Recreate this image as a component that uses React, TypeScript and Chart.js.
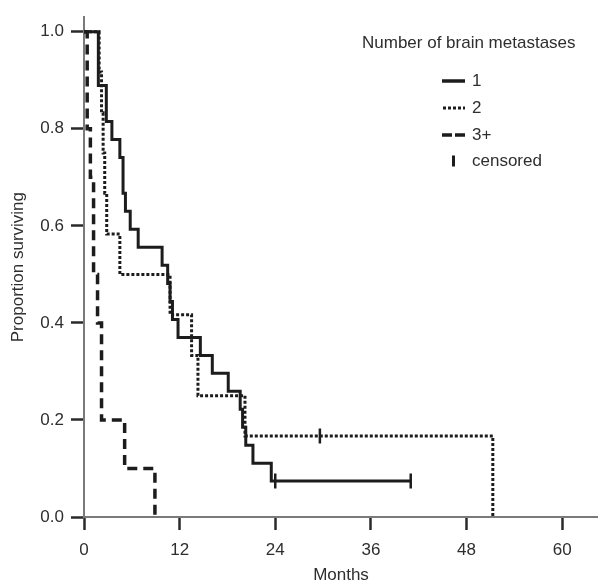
import React, { useEffect, useRef } from "react";
import { Chart, registerables } from "chart.js";

Chart.register(...registerables);

// ---- data ----
const xTickValues = [0, 12, 24, 36, 48, 60];
const yTickValues = [0, 0.2, 0.4, 0.6, 0.8, 1.0];

// Group "1" (solid)
const months1 = [0, 1.8, 2.8, 3.5, 4.5, 4.9, 5.2, 5.8, 6.8, 9.8, 10.5, 10.8, 11.1, 11.8, 14.6, 16.1, 18.1, 19.6, 19.9, 20.3, 21.2, 23.5, 41];
const surv1 = [1, 0.889, 0.815, 0.778, 0.741, 0.667, 0.63, 0.593, 0.556, 0.519, 0.481, 0.444, 0.407, 0.37, 0.333, 0.296, 0.259, 0.222, 0.185, 0.148, 0.111, 0.074, 0.074];

// Group "2" (dotted)
const months2 = [0, 1.9, 2.2, 2.4, 2.6, 2.85, 4.5, 10.8, 13.5, 14.3, 20.2, 51.3];
const surv2 = [1, 0.917, 0.833, 0.75, 0.667, 0.583, 0.5, 0.417, 0.333, 0.25, 0.167, 0];

// Group "3+" (dashed)
const months3 = [0, 0.4, 0.8, 1.2, 1.7, 2.2, 5.1, 8.9];
const surv3 = [1, 0.8, 0.7, 0.5, 0.4, 0.2, 0.1, 0];

// Censored marks
const censMonths1 = [24, 41];
const censSurv1 = [0.074, 0.074];
const censMonths2 = [29.6];
const censSurv2 = [0.167];

const seriesLabels = ["1", "2", "3+", "censored"];
const legendTitle = "Number of brain metastases";
const xTitle = "Months";
const yTitle = "Proportion surviving";

const FONT = "'Liberation Sans', Arial, Helvetica, sans-serif";
const INK = "#1c1c1c";
const TEXT = "#2e2e2e";

const pts = (xs: number[], ys: number[]) => xs.map((x, i) => ({ x, y: ys[i] }));

const legendPlugin = {
  id: "kmLegend",
  afterDraw(chart: any) {
    const ctx = chart.ctx as CanvasRenderingContext2D;
    const area = chart.chartArea;
    const x0 = area.right - 236;
    ctx.save();
    ctx.font = `17px ${FONT}`;
    ctx.fillStyle = TEXT;
    ctx.textBaseline = "middle";
    ctx.textAlign = "left";
    ctx.fillText(legendTitle, x0, 43);

    const rows = [81, 108, 135, 161];
    const sx1 = x0 + 80;
    const sx2 = x0 + 103;
    const tx = x0 + 110;
    ctx.strokeStyle = INK;
    ctx.lineCap = "butt";
    // solid
    ctx.lineWidth = 3.5;
    ctx.setLineDash([]);
    ctx.beginPath();
    ctx.moveTo(sx1, rows[0]);
    ctx.lineTo(sx2, rows[0]);
    ctx.stroke();
    // dotted
    ctx.lineWidth = 3;
    ctx.setLineDash([3, 2]);
    ctx.beginPath();
    ctx.moveTo(sx1 + 1, rows[1]);
    ctx.lineTo(sx2, rows[1]);
    ctx.stroke();
    // dashed
    ctx.lineWidth = 3.5;
    ctx.setLineDash([10, 3]);
    ctx.beginPath();
    ctx.moveTo(sx1, rows[2]);
    ctx.lineTo(sx2, rows[2]);
    ctx.stroke();
    // censored
    ctx.setLineDash([]);
    ctx.lineWidth = 3;
    ctx.beginPath();
    ctx.moveTo(x0 + 91.5, rows[3] - 5.5);
    ctx.lineTo(x0 + 91.5, rows[3] + 5.5);
    ctx.stroke();

    seriesLabels.forEach((lab, i) => {
      ctx.fillText(lab, tx, rows[i]);
    });
    ctx.restore();
  },
};

export default function App() {
  const ref = useRef<HTMLCanvasElement>(null);

  useEffect(() => {
    const canvas = ref.current;
    if (!canvas) return;
    const chart = new Chart(canvas, {
      type: "line",
      data: {
        datasets: [
          {
            label: "1",
            data: pts(months1, surv1),
            borderColor: INK,
            borderWidth: 3,
            stepped: "before",
            pointRadius: 0,
            fill: false,
          },
          {
            label: "2",
            data: pts(months2, surv2),
            borderColor: INK,
            borderWidth: 3,
            borderDash: [3, 2],
            stepped: "before",
            pointRadius: 0,
            fill: false,
          },
          {
            label: "3+",
            data: pts(months3, surv3),
            borderColor: INK,
            borderWidth: 3.5,
            borderDash: [10, 6],
            stepped: "before",
            pointRadius: 0,
            fill: false,
          },
          {
            label: "censored 1",
            data: pts(censMonths1, censSurv1),
            showLine: false,
            pointStyle: "line",
            rotation: 90,
            pointRadius: 7.5,
            pointBorderWidth: 2.5,
            borderColor: INK,
            backgroundColor: INK,
          } as any,
          {
            label: "censored 2",
            data: pts(censMonths2, censSurv2),
            showLine: false,
            pointStyle: "line",
            rotation: 90,
            pointRadius: 7.5,
            pointBorderWidth: 2.5,
            borderColor: INK,
            backgroundColor: INK,
          } as any,
        ],
      },
      options: {
        responsive: false,
        animation: false,
        events: [],
        layout: { autoPadding: false, padding: { top: 13, right: 0, left: 0, bottom: 0 } },
        plugins: {
          legend: { display: false },
          tooltip: { enabled: false },
        },
        scales: {
          x: {
            type: "linear",
            min: 0,
            max: 64.5,
            afterFit: (s: any) => {
              s.height = 66;
            },
            afterBuildTicks: (s: any) => {
              s.ticks = xTickValues.map((v) => ({ value: v }));
            },
            grid: {
              drawOnChartArea: false,
              drawTicks: true,
              tickLength: 13,
              tickWidth: 2.5,
              tickColor: "#2a2a2a",
            },
            border: { display: true, color: "#7a7a7a", width: 2 },
            ticks: {
              color: TEXT,
              font: { family: FONT, size: 17 },
              padding: 10,
              maxRotation: 0,
              autoSkip: false,
            },
            title: {
              display: true,
              text: xTitle,
              color: TEXT,
              font: { family: FONT, size: 17 },
              padding: { top: 0, bottom: -3 },
            },
          },
          y: {
            type: "linear",
            min: 0,
            max: 1.03,
            afterFit: (s: any) => {
              s.width = 84;
            },
            afterBuildTicks: (s: any) => {
              s.ticks = yTickValues.map((v) => ({ value: v }));
            },
            grid: {
              drawOnChartArea: false,
              drawTicks: true,
              tickLength: 13,
              tickWidth: 2.5,
              tickColor: "#2a2a2a",
            },
            border: { display: true, color: "#7a7a7a", width: 2 },
            ticks: {
              color: TEXT,
              font: { family: FONT, size: 17 },
              padding: 7,
              autoSkip: false,
              callback: (v: any) => Number(v).toFixed(1),
            },
            title: {
              display: true,
              text: yTitle,
              color: TEXT,
              font: { family: FONT, size: 17 },
              padding: { top: 8, bottom: 0 },
            },
          },
        },
      },
      plugins: [legendPlugin],
    });
    return () => chart.destroy();
  }, []);

  return (
    <div style={{ position: "fixed", left: 0, top: 0, width: 598, height: 583, background: "#fff" }}>
      <canvas ref={ref} width={598} height={583} style={{ display: "block" }} />
    </div>
  );
}
